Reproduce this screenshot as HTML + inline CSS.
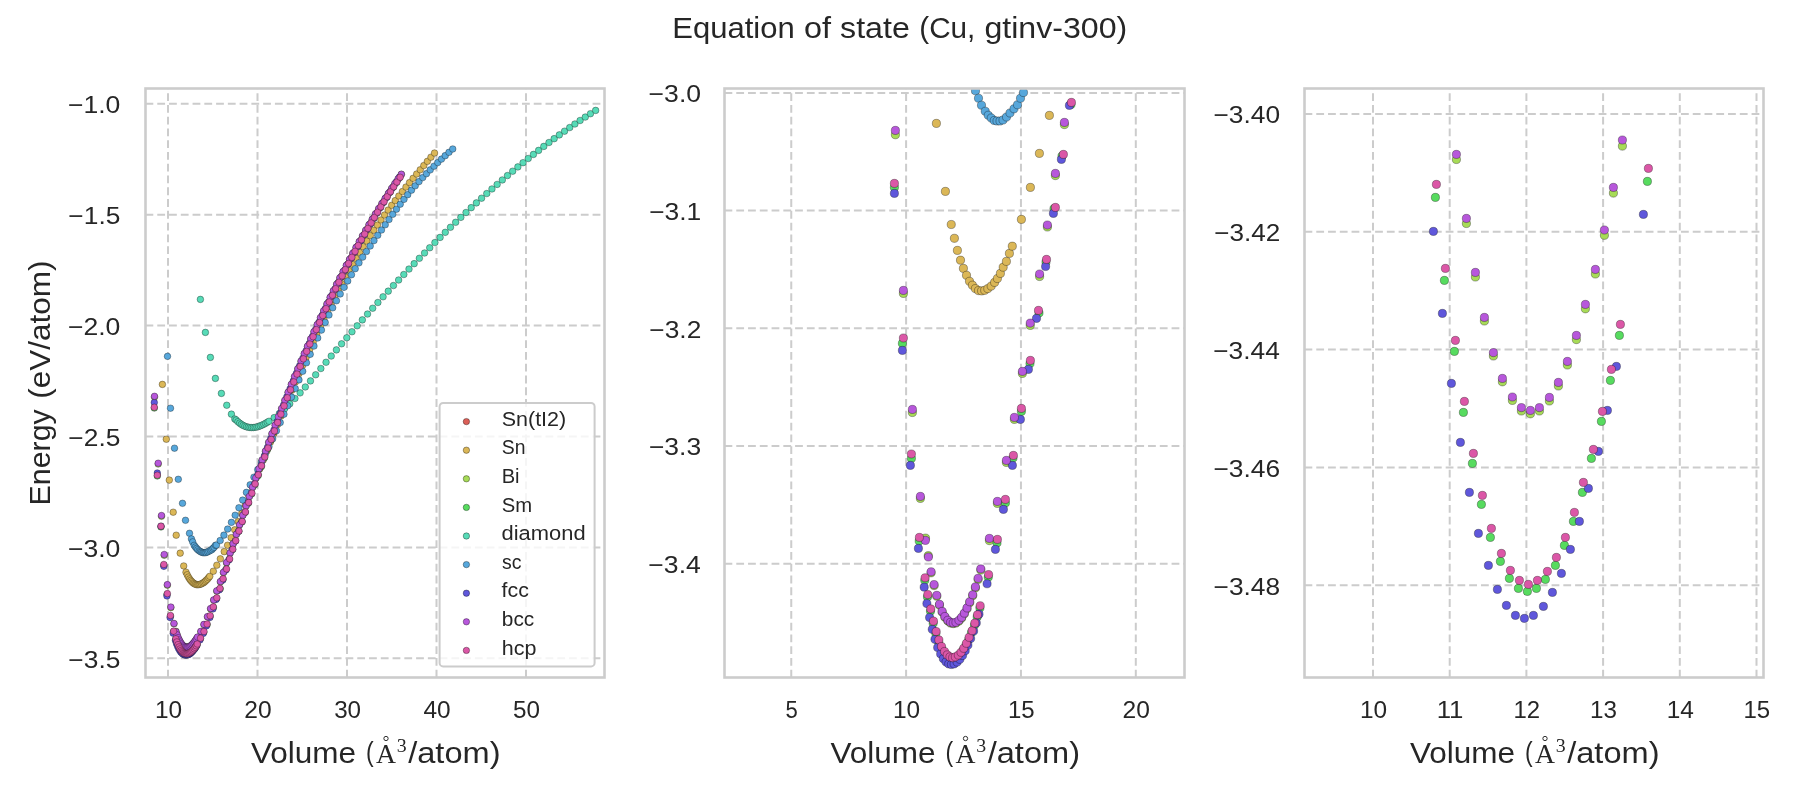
<!DOCTYPE html><html><head><meta charset="utf-8"><title>Equation of state</title><style>html,body{margin:0;padding:0;background:#fff;width:1800px;height:800px;overflow:hidden}svg{display:block;will-change:transform}text{font-family:"Liberation Sans",sans-serif;fill:#262626}</style></head><body>
<svg width="1800" height="800" viewBox="0 0 1800 800">
<rect width="1800" height="800" fill="#fff"/>
<defs>
<clipPath id="c0"><rect x="145.50" y="88.50" width="459.00" height="589.00"/></clipPath>
<clipPath id="c1"><rect x="724.50" y="88.50" width="460.00" height="589.00"/></clipPath>
<clipPath id="c2"><rect x="1304.50" y="88.50" width="459.00" height="589.00"/></clipPath>
</defs>
<text x="672.20" y="37.75" font-size="30.20" textLength="122.52" lengthAdjust="spacingAndGlyphs">Equation</text><text x="804.06" y="37.75" font-size="30.20" textLength="27.09" lengthAdjust="spacingAndGlyphs">of</text><text x="840.12" y="37.75" font-size="30.20" textLength="69.72" lengthAdjust="spacingAndGlyphs">state</text><text x="919.26" y="37.75" font-size="30.20" textLength="56.08" lengthAdjust="spacingAndGlyphs">(Cu,</text><text x="984.41" y="37.75" font-size="30.20" textLength="142.88" lengthAdjust="spacingAndGlyphs">gtinv-300)</text>
<path d="M168.00 677.50V88.50M257.50 677.50V88.50M347.00 677.50V88.50M436.50 677.50V88.50M526.00 677.50V88.50M145.50 103.80H604.50M145.50 214.70H604.50M145.50 325.60H604.50M145.50 436.50H604.50M145.50 547.40H604.50M145.50 658.30H604.50" stroke="#cccccc" stroke-width="2.0" stroke-dasharray="7.8 3.965" fill="none"/>
<g clip-path="url(#c0)" stroke="#000" stroke-opacity="0.38" stroke-width="0.85">
<g fill="#dbb757"><circle cx="162.40" cy="384.40" r="3.30"/><circle cx="166.30" cy="439.20" r="3.30"/><circle cx="169.30" cy="480.10" r="3.30"/><circle cx="173.20" cy="512.20" r="3.30"/><circle cx="176.20" cy="535.20" r="3.30"/><circle cx="180.21" cy="553.15" r="3.30"/><circle cx="183.71" cy="565.96" r="3.30"/><circle cx="185.99" cy="572.20" r="3.30"/><circle cx="187.22" cy="574.80" r="3.30"/><circle cx="188.39" cy="577.08" r="3.30"/><circle cx="189.60" cy="578.93" r="3.30"/><circle cx="190.73" cy="580.47" r="3.30"/><circle cx="191.93" cy="581.77" r="3.30"/><circle cx="193.10" cy="582.90" r="3.30"/><circle cx="194.23" cy="583.64" r="3.30"/><circle cx="195.40" cy="584.28" r="3.30"/><circle cx="196.61" cy="584.66" r="3.30"/><circle cx="197.82" cy="584.71" r="3.30"/><circle cx="199.03" cy="584.60" r="3.30"/><circle cx="200.23" cy="584.28" r="3.30"/><circle cx="201.56" cy="583.81" r="3.30"/><circle cx="202.88" cy="583.11" r="3.30"/><circle cx="203.97" cy="582.38" r="3.30"/><circle cx="205.14" cy="581.41" r="3.30"/><circle cx="206.23" cy="580.25" r="3.30"/><circle cx="207.48" cy="579.15" r="3.30"/><circle cx="208.65" cy="577.65" r="3.30"/><circle cx="209.78" cy="576.29" r="3.30"/><circle cx="213.33" cy="571.24" r="3.30"/><circle cx="216.83" cy="565.21" r="3.30"/><circle cx="220.34" cy="558.80" r="3.30"/><circle cx="224.24" cy="551.64" r="3.30"/><circle cx="227.57" cy="545.24" r="3.30"/><circle cx="231.14" cy="537.68" r="3.30"/><circle cx="234.71" cy="529.80" r="3.30"/><circle cx="238.27" cy="521.65" r="3.30"/><circle cx="241.84" cy="513.25" r="3.30"/><circle cx="245.41" cy="504.66" r="3.30"/><circle cx="248.98" cy="495.91" r="3.30"/><circle cx="252.55" cy="487.03" r="3.30"/><circle cx="256.12" cy="478.08" r="3.30"/><circle cx="259.68" cy="469.08" r="3.30"/><circle cx="263.25" cy="460.08" r="3.30"/><circle cx="266.82" cy="451.12" r="3.30"/><circle cx="270.39" cy="442.22" r="3.30"/><circle cx="273.96" cy="433.38" r="3.30"/><circle cx="277.52" cy="424.62" r="3.30"/><circle cx="281.09" cy="415.92" r="3.30"/><circle cx="284.66" cy="407.30" r="3.30"/><circle cx="288.23" cy="398.77" r="3.30"/><circle cx="291.80" cy="390.32" r="3.30"/><circle cx="295.36" cy="381.97" r="3.30"/><circle cx="298.93" cy="373.71" r="3.30"/><circle cx="302.50" cy="365.55" r="3.30"/><circle cx="306.07" cy="357.49" r="3.30"/><circle cx="309.64" cy="349.55" r="3.30"/><circle cx="313.21" cy="341.72" r="3.30"/><circle cx="316.77" cy="334.02" r="3.30"/><circle cx="320.34" cy="326.43" r="3.30"/><circle cx="323.91" cy="318.97" r="3.30"/><circle cx="327.48" cy="311.65" r="3.30"/><circle cx="331.05" cy="304.47" r="3.30"/><circle cx="334.61" cy="297.42" r="3.30"/><circle cx="338.18" cy="290.53" r="3.30"/><circle cx="341.75" cy="283.78" r="3.30"/><circle cx="345.32" cy="277.19" r="3.30"/><circle cx="348.89" cy="270.76" r="3.30"/><circle cx="352.45" cy="264.50" r="3.30"/><circle cx="356.02" cy="258.41" r="3.30"/><circle cx="359.59" cy="252.48" r="3.30"/><circle cx="363.16" cy="246.70" r="3.30"/><circle cx="366.73" cy="241.08" r="3.30"/><circle cx="370.29" cy="235.60" r="3.30"/><circle cx="373.86" cy="230.25" r="3.30"/><circle cx="377.43" cy="225.04" r="3.30"/><circle cx="381.00" cy="219.94" r="3.30"/><circle cx="384.57" cy="214.96" r="3.30"/><circle cx="388.14" cy="210.08" r="3.30"/><circle cx="391.70" cy="205.30" r="3.30"/><circle cx="395.27" cy="200.61" r="3.30"/><circle cx="398.84" cy="196.01" r="3.30"/><circle cx="402.41" cy="191.49" r="3.30"/><circle cx="405.98" cy="187.03" r="3.30"/><circle cx="409.54" cy="182.64" r="3.30"/><circle cx="413.11" cy="178.30" r="3.30"/><circle cx="416.68" cy="174.01" r="3.30"/><circle cx="420.25" cy="169.76" r="3.30"/><circle cx="423.82" cy="165.55" r="3.30"/><circle cx="427.38" cy="161.36" r="3.30"/><circle cx="430.95" cy="157.19" r="3.30"/><circle cx="434.52" cy="153.03" r="3.30"/></g>
<g fill="#a7db57"><circle cx="154.50" cy="397.11" r="3.30"/><circle cx="158.20" cy="464.01" r="3.30"/><circle cx="161.50" cy="516.31" r="3.30"/><circle cx="164.23" cy="555.28" r="3.30"/><circle cx="167.35" cy="585.18" r="3.30"/><circle cx="170.85" cy="607.63" r="3.30"/><circle cx="173.97" cy="623.81" r="3.30"/><circle cx="175.96" cy="631.30" r="3.30"/><circle cx="177.04" cy="634.61" r="3.30"/><circle cx="178.13" cy="637.83" r="3.30"/><circle cx="179.30" cy="640.24" r="3.30"/><circle cx="180.35" cy="642.26" r="3.30"/><circle cx="181.40" cy="643.92" r="3.30"/><circle cx="182.45" cy="645.23" r="3.30"/><circle cx="183.50" cy="646.20" r="3.30"/><circle cx="184.67" cy="646.90" r="3.30"/><circle cx="185.72" cy="647.30" r="3.30"/><circle cx="186.77" cy="647.41" r="3.30"/><circle cx="187.82" cy="647.30" r="3.30"/><circle cx="188.98" cy="646.93" r="3.30"/><circle cx="190.03" cy="646.36" r="3.30"/><circle cx="191.08" cy="645.57" r="3.30"/><circle cx="192.13" cy="644.62" r="3.30"/><circle cx="193.18" cy="643.46" r="3.30"/><circle cx="194.35" cy="642.15" r="3.30"/><circle cx="195.40" cy="640.69" r="3.30"/><circle cx="196.45" cy="639.10" r="3.30"/><circle cx="197.50" cy="637.33" r="3.30"/><circle cx="200.86" cy="631.77" r="3.30"/><circle cx="203.97" cy="624.76" r="3.30"/><circle cx="207.48" cy="617.03" r="3.30"/><circle cx="210.60" cy="608.93" r="3.30"/><circle cx="213.71" cy="600.26" r="3.30"/><circle cx="216.77" cy="591.21" r="3.30"/><circle cx="220.42" cy="582.00" r="3.30"/><circle cx="223.46" cy="572.67" r="3.30"/><circle cx="226.57" cy="562.98" r="3.30"/><circle cx="230.08" cy="553.37" r="3.30"/><circle cx="233.12" cy="543.98" r="3.30"/><circle cx="236.36" cy="534.45" r="3.30"/><circle cx="239.59" cy="524.96" r="3.30"/><circle cx="242.83" cy="515.51" r="3.30"/><circle cx="246.06" cy="506.11" r="3.30"/><circle cx="249.30" cy="496.77" r="3.30"/><circle cx="252.53" cy="487.50" r="3.30"/><circle cx="255.77" cy="478.32" r="3.30"/><circle cx="259.01" cy="469.24" r="3.30"/><circle cx="262.24" cy="460.26" r="3.30"/><circle cx="265.48" cy="451.39" r="3.30"/><circle cx="268.71" cy="442.65" r="3.30"/><circle cx="271.95" cy="434.01" r="3.30"/><circle cx="275.18" cy="425.50" r="3.30"/><circle cx="278.42" cy="417.09" r="3.30"/><circle cx="281.65" cy="408.80" r="3.30"/><circle cx="284.89" cy="400.63" r="3.30"/><circle cx="288.12" cy="392.56" r="3.30"/><circle cx="291.36" cy="384.60" r="3.30"/><circle cx="294.59" cy="376.76" r="3.30"/><circle cx="297.83" cy="369.02" r="3.30"/><circle cx="301.07" cy="361.40" r="3.30"/><circle cx="304.30" cy="353.88" r="3.30"/><circle cx="307.54" cy="346.46" r="3.30"/><circle cx="310.77" cy="339.15" r="3.30"/><circle cx="314.01" cy="331.95" r="3.30"/><circle cx="317.24" cy="324.86" r="3.30"/><circle cx="320.48" cy="317.86" r="3.30"/><circle cx="323.71" cy="310.97" r="3.30"/><circle cx="326.95" cy="304.18" r="3.30"/><circle cx="330.18" cy="297.49" r="3.30"/><circle cx="333.42" cy="290.91" r="3.30"/><circle cx="336.66" cy="284.42" r="3.30"/><circle cx="339.89" cy="278.03" r="3.30"/><circle cx="343.13" cy="271.74" r="3.30"/><circle cx="346.36" cy="265.55" r="3.30"/><circle cx="349.60" cy="259.45" r="3.30"/><circle cx="352.83" cy="253.45" r="3.30"/><circle cx="356.07" cy="247.54" r="3.30"/><circle cx="359.30" cy="241.73" r="3.30"/><circle cx="362.54" cy="236.01" r="3.30"/><circle cx="365.77" cy="230.39" r="3.30"/><circle cx="369.01" cy="224.85" r="3.30"/><circle cx="372.25" cy="219.41" r="3.30"/><circle cx="375.48" cy="214.05" r="3.30"/><circle cx="378.72" cy="208.79" r="3.30"/><circle cx="381.95" cy="203.61" r="3.30"/><circle cx="385.19" cy="198.53" r="3.30"/><circle cx="388.42" cy="193.53" r="3.30"/><circle cx="391.66" cy="188.61" r="3.30"/><circle cx="394.89" cy="183.78" r="3.30"/><circle cx="398.13" cy="179.04" r="3.30"/><circle cx="401.36" cy="174.38" r="3.30"/></g>
<g fill="#57db5f"><circle cx="154.30" cy="408.05" r="3.30"/><circle cx="157.30" cy="475.95" r="3.30"/><circle cx="161.00" cy="526.95" r="3.30"/><circle cx="163.84" cy="565.21" r="3.30"/><circle cx="166.96" cy="594.61" r="3.30"/><circle cx="170.47" cy="616.28" r="3.30"/><circle cx="173.50" cy="631.84" r="3.30"/><circle cx="175.68" cy="639.26" r="3.30"/><circle cx="176.73" cy="642.39" r="3.30"/><circle cx="177.90" cy="645.06" r="3.30"/><circle cx="178.95" cy="647.36" r="3.30"/><circle cx="180.00" cy="649.28" r="3.30"/><circle cx="181.05" cy="650.82" r="3.30"/><circle cx="182.10" cy="652.06" r="3.30"/><circle cx="183.27" cy="652.97" r="3.30"/><circle cx="184.32" cy="653.61" r="3.30"/><circle cx="185.37" cy="653.98" r="3.30"/><circle cx="186.42" cy="654.10" r="3.30"/><circle cx="187.47" cy="653.98" r="3.30"/><circle cx="188.52" cy="653.65" r="3.30"/><circle cx="189.68" cy="653.12" r="3.30"/><circle cx="190.73" cy="652.37" r="3.30"/><circle cx="191.78" cy="651.46" r="3.30"/><circle cx="192.83" cy="650.37" r="3.30"/><circle cx="193.88" cy="649.09" r="3.30"/><circle cx="195.05" cy="647.70" r="3.30"/><circle cx="196.10" cy="646.15" r="3.30"/><circle cx="197.15" cy="644.46" r="3.30"/><circle cx="200.42" cy="638.66" r="3.30"/><circle cx="203.82" cy="632.22" r="3.30"/><circle cx="207.09" cy="624.68" r="3.30"/><circle cx="210.05" cy="616.20" r="3.30"/><circle cx="213.33" cy="607.42" r="3.30"/><circle cx="216.68" cy="598.41" r="3.30"/><circle cx="220.18" cy="588.88" r="3.30"/><circle cx="222.91" cy="579.27" r="3.30"/><circle cx="226.03" cy="569.20" r="3.30"/><circle cx="229.14" cy="559.29" r="3.30"/><circle cx="232.65" cy="549.59" r="3.30"/><circle cx="235.57" cy="540.88" r="3.30"/><circle cx="238.79" cy="531.35" r="3.30"/><circle cx="242.01" cy="521.88" r="3.30"/><circle cx="245.23" cy="512.48" r="3.30"/><circle cx="248.45" cy="503.16" r="3.30"/><circle cx="251.67" cy="493.91" r="3.30"/><circle cx="254.89" cy="484.74" r="3.30"/><circle cx="258.11" cy="475.66" r="3.30"/><circle cx="261.33" cy="466.66" r="3.30"/><circle cx="264.55" cy="457.75" r="3.30"/><circle cx="267.77" cy="448.94" r="3.30"/><circle cx="270.99" cy="440.23" r="3.30"/><circle cx="274.21" cy="431.61" r="3.30"/><circle cx="277.42" cy="423.10" r="3.30"/><circle cx="280.64" cy="414.70" r="3.30"/><circle cx="283.86" cy="406.41" r="3.30"/><circle cx="287.08" cy="398.24" r="3.30"/><circle cx="290.30" cy="390.19" r="3.30"/><circle cx="293.52" cy="382.25" r="3.30"/><circle cx="296.74" cy="374.43" r="3.30"/><circle cx="299.96" cy="366.72" r="3.30"/><circle cx="303.18" cy="359.13" r="3.30"/><circle cx="306.40" cy="351.65" r="3.30"/><circle cx="309.62" cy="344.28" r="3.30"/><circle cx="312.84" cy="337.03" r="3.30"/><circle cx="316.06" cy="329.87" r="3.30"/><circle cx="319.28" cy="322.83" r="3.30"/><circle cx="322.49" cy="315.89" r="3.30"/><circle cx="325.71" cy="309.06" r="3.30"/><circle cx="328.93" cy="302.33" r="3.30"/><circle cx="332.15" cy="295.70" r="3.30"/><circle cx="335.37" cy="289.17" r="3.30"/><circle cx="338.59" cy="282.74" r="3.30"/><circle cx="341.81" cy="276.41" r="3.30"/><circle cx="345.03" cy="270.17" r="3.30"/><circle cx="348.25" cy="264.03" r="3.30"/><circle cx="351.47" cy="257.98" r="3.30"/><circle cx="354.69" cy="252.02" r="3.30"/><circle cx="357.91" cy="246.16" r="3.30"/><circle cx="361.13" cy="240.38" r="3.30"/><circle cx="364.35" cy="234.70" r="3.30"/><circle cx="367.57" cy="229.10" r="3.30"/><circle cx="370.78" cy="223.58" r="3.30"/><circle cx="374.00" cy="218.15" r="3.30"/><circle cx="377.22" cy="212.80" r="3.30"/><circle cx="380.44" cy="207.53" r="3.30"/><circle cx="383.66" cy="202.35" r="3.30"/><circle cx="386.88" cy="197.24" r="3.30"/><circle cx="390.10" cy="192.21" r="3.30"/><circle cx="393.32" cy="187.26" r="3.30"/><circle cx="396.54" cy="182.38" r="3.30"/><circle cx="399.76" cy="177.57" r="3.30"/></g>
<g fill="#57dbb7"><circle cx="200.40" cy="299.40" r="3.30"/><circle cx="205.40" cy="332.40" r="3.30"/><circle cx="210.40" cy="357.40" r="3.30"/><circle cx="215.40" cy="378.40" r="3.30"/><circle cx="221.40" cy="393.40" r="3.30"/><circle cx="226.75" cy="405.25" r="3.30"/><circle cx="231.40" cy="414.15" r="3.30"/><circle cx="234.80" cy="419.00" r="3.30"/><circle cx="236.17" cy="420.01" r="3.30"/><circle cx="237.90" cy="421.70" r="3.30"/><circle cx="239.63" cy="423.15" r="3.30"/><circle cx="241.36" cy="424.38" r="3.30"/><circle cx="243.08" cy="425.40" r="3.30"/><circle cx="244.81" cy="426.21" r="3.30"/><circle cx="246.54" cy="426.83" r="3.30"/><circle cx="248.27" cy="427.25" r="3.30"/><circle cx="250.00" cy="427.51" r="3.30"/><circle cx="251.72" cy="427.59" r="3.30"/><circle cx="253.45" cy="427.52" r="3.30"/><circle cx="255.18" cy="427.29" r="3.30"/><circle cx="256.91" cy="426.93" r="3.30"/><circle cx="258.64" cy="426.44" r="3.30"/><circle cx="260.37" cy="425.82" r="3.30"/><circle cx="262.09" cy="425.09" r="3.30"/><circle cx="263.82" cy="424.26" r="3.30"/><circle cx="265.55" cy="423.34" r="3.30"/><circle cx="267.28" cy="422.33" r="3.30"/><circle cx="269.01" cy="421.25" r="3.30"/><circle cx="274.19" cy="417.62" r="3.30"/><circle cx="279.38" cy="413.47" r="3.30"/><circle cx="284.56" cy="408.87" r="3.30"/><circle cx="289.75" cy="403.86" r="3.30"/><circle cx="294.93" cy="398.50" r="3.30"/><circle cx="300.12" cy="392.86" r="3.30"/><circle cx="305.30" cy="386.98" r="3.30"/><circle cx="310.48" cy="380.92" r="3.30"/><circle cx="315.67" cy="374.75" r="3.30"/><circle cx="320.85" cy="368.51" r="3.30"/><circle cx="326.04" cy="362.26" r="3.30"/><circle cx="331.22" cy="356.05" r="3.30"/><circle cx="336.41" cy="349.90" r="3.30"/><circle cx="341.59" cy="343.79" r="3.30"/><circle cx="346.78" cy="337.74" r="3.30"/><circle cx="351.96" cy="331.74" r="3.30"/><circle cx="357.15" cy="325.79" r="3.30"/><circle cx="362.33" cy="319.89" r="3.30"/><circle cx="367.52" cy="314.04" r="3.30"/><circle cx="372.70" cy="308.24" r="3.30"/><circle cx="377.89" cy="302.50" r="3.30"/><circle cx="383.07" cy="296.80" r="3.30"/><circle cx="388.26" cy="291.15" r="3.30"/><circle cx="393.44" cy="285.55" r="3.30"/><circle cx="398.63" cy="280.01" r="3.30"/><circle cx="403.81" cy="274.51" r="3.30"/><circle cx="408.99" cy="269.06" r="3.30"/><circle cx="414.18" cy="263.66" r="3.30"/><circle cx="419.36" cy="258.31" r="3.30"/><circle cx="424.55" cy="253.01" r="3.30"/><circle cx="429.73" cy="247.76" r="3.30"/><circle cx="434.92" cy="242.57" r="3.30"/><circle cx="440.10" cy="237.42" r="3.30"/><circle cx="445.29" cy="232.33" r="3.30"/><circle cx="450.47" cy="227.29" r="3.30"/><circle cx="455.66" cy="222.30" r="3.30"/><circle cx="460.84" cy="217.37" r="3.30"/><circle cx="466.03" cy="212.49" r="3.30"/><circle cx="471.21" cy="207.67" r="3.30"/><circle cx="476.40" cy="202.91" r="3.30"/><circle cx="481.58" cy="198.20" r="3.30"/><circle cx="486.77" cy="193.55" r="3.30"/><circle cx="491.95" cy="188.96" r="3.30"/><circle cx="497.14" cy="184.43" r="3.30"/><circle cx="502.32" cy="179.96" r="3.30"/><circle cx="507.50" cy="175.55" r="3.30"/><circle cx="512.69" cy="171.20" r="3.30"/><circle cx="517.87" cy="166.91" r="3.30"/><circle cx="523.06" cy="162.68" r="3.30"/><circle cx="528.24" cy="158.52" r="3.30"/><circle cx="533.43" cy="154.42" r="3.30"/><circle cx="538.61" cy="150.38" r="3.30"/><circle cx="543.80" cy="146.41" r="3.30"/><circle cx="548.98" cy="142.51" r="3.30"/><circle cx="554.17" cy="138.67" r="3.30"/><circle cx="559.35" cy="134.90" r="3.30"/><circle cx="564.54" cy="131.19" r="3.30"/><circle cx="569.72" cy="127.56" r="3.30"/><circle cx="574.91" cy="123.99" r="3.30"/><circle cx="580.09" cy="120.49" r="3.30"/><circle cx="585.28" cy="117.07" r="3.30"/><circle cx="590.46" cy="113.71" r="3.30"/><circle cx="595.65" cy="110.42" r="3.30"/></g>
<g fill="#57a7db"><circle cx="167.50" cy="356.35" r="3.30"/><circle cx="170.50" cy="408.20" r="3.30"/><circle cx="174.50" cy="448.20" r="3.30"/><circle cx="178.30" cy="479.30" r="3.30"/><circle cx="182.50" cy="503.30" r="3.30"/><circle cx="185.50" cy="520.30" r="3.30"/><circle cx="189.50" cy="533.30" r="3.30"/><circle cx="191.43" cy="538.91" r="3.30"/><circle cx="192.68" cy="541.88" r="3.30"/><circle cx="194.19" cy="545.35" r="3.30"/><circle cx="195.44" cy="546.99" r="3.30"/><circle cx="196.61" cy="548.41" r="3.30"/><circle cx="197.78" cy="549.73" r="3.30"/><circle cx="199.24" cy="550.86" r="3.30"/><circle cx="200.41" cy="551.61" r="3.30"/><circle cx="201.58" cy="552.13" r="3.30"/><circle cx="202.75" cy="552.60" r="3.30"/><circle cx="203.82" cy="552.70" r="3.30"/><circle cx="204.99" cy="552.70" r="3.30"/><circle cx="206.16" cy="552.51" r="3.30"/><circle cx="207.52" cy="551.94" r="3.30"/><circle cx="208.88" cy="551.19" r="3.30"/><circle cx="210.44" cy="550.39" r="3.30"/><circle cx="211.81" cy="549.63" r="3.30"/><circle cx="212.97" cy="548.41" r="3.30"/><circle cx="214.14" cy="547.32" r="3.30"/><circle cx="215.43" cy="545.35" r="3.30"/><circle cx="216.43" cy="545.06" r="3.30"/><circle cx="220.19" cy="540.52" r="3.30"/><circle cx="223.94" cy="535.14" r="3.30"/><circle cx="227.69" cy="529.05" r="3.30"/><circle cx="231.44" cy="522.37" r="3.30"/><circle cx="235.19" cy="515.22" r="3.30"/><circle cx="238.94" cy="507.75" r="3.30"/><circle cx="242.69" cy="500.09" r="3.30"/><circle cx="246.44" cy="492.39" r="3.30"/><circle cx="250.19" cy="484.76" r="3.30"/><circle cx="253.94" cy="477.18" r="3.30"/><circle cx="257.70" cy="469.63" r="3.30"/><circle cx="261.45" cy="462.05" r="3.30"/><circle cx="265.20" cy="454.42" r="3.30"/><circle cx="268.95" cy="446.69" r="3.30"/><circle cx="272.70" cy="438.83" r="3.30"/><circle cx="276.45" cy="430.80" r="3.30"/><circle cx="280.20" cy="422.58" r="3.30"/><circle cx="283.95" cy="414.20" r="3.30"/><circle cx="287.70" cy="405.71" r="3.30"/><circle cx="291.45" cy="397.13" r="3.30"/><circle cx="295.20" cy="388.51" r="3.30"/><circle cx="298.96" cy="379.88" r="3.30"/><circle cx="302.71" cy="371.29" r="3.30"/><circle cx="306.46" cy="362.76" r="3.30"/><circle cx="310.21" cy="354.34" r="3.30"/><circle cx="313.96" cy="346.06" r="3.30"/><circle cx="317.71" cy="337.96" r="3.30"/><circle cx="321.46" cy="330.08" r="3.30"/><circle cx="325.21" cy="322.43" r="3.30"/><circle cx="328.96" cy="314.99" r="3.30"/><circle cx="332.71" cy="307.77" r="3.30"/><circle cx="336.46" cy="300.76" r="3.30"/><circle cx="340.22" cy="293.95" r="3.30"/><circle cx="343.97" cy="287.35" r="3.30"/><circle cx="347.72" cy="280.94" r="3.30"/><circle cx="351.47" cy="274.73" r="3.30"/><circle cx="355.22" cy="268.69" r="3.30"/><circle cx="358.97" cy="262.83" r="3.30"/><circle cx="362.72" cy="257.10" r="3.30"/><circle cx="366.47" cy="251.51" r="3.30"/><circle cx="370.22" cy="246.02" r="3.30"/><circle cx="373.97" cy="240.62" r="3.30"/><circle cx="377.73" cy="235.29" r="3.30"/><circle cx="381.48" cy="230.01" r="3.30"/><circle cx="385.23" cy="224.75" r="3.30"/><circle cx="388.98" cy="219.50" r="3.30"/><circle cx="392.73" cy="214.31" r="3.30"/><circle cx="396.48" cy="209.19" r="3.30"/><circle cx="400.23" cy="204.18" r="3.30"/><circle cx="403.98" cy="199.33" r="3.30"/><circle cx="407.73" cy="194.65" r="3.30"/><circle cx="411.48" cy="190.14" r="3.30"/><circle cx="415.23" cy="185.80" r="3.30"/><circle cx="418.99" cy="181.61" r="3.30"/><circle cx="422.74" cy="177.57" r="3.30"/><circle cx="426.49" cy="173.65" r="3.30"/><circle cx="430.24" cy="169.86" r="3.30"/><circle cx="433.99" cy="166.18" r="3.30"/><circle cx="437.74" cy="162.59" r="3.30"/><circle cx="441.49" cy="159.09" r="3.30"/><circle cx="445.24" cy="155.66" r="3.30"/><circle cx="448.99" cy="152.30" r="3.30"/><circle cx="452.74" cy="148.99" r="3.30"/></g>
<g fill="#5f57db"><circle cx="154.30" cy="402.50" r="3.30"/><circle cx="157.30" cy="473.00" r="3.30"/><circle cx="161.00" cy="526.20" r="3.30"/><circle cx="163.84" cy="566.34" r="3.30"/><circle cx="166.96" cy="595.92" r="3.30"/><circle cx="170.08" cy="617.60" r="3.30"/><circle cx="173.19" cy="633.24" r="3.30"/><circle cx="175.45" cy="640.54" r="3.30"/><circle cx="176.50" cy="643.63" r="3.30"/><circle cx="177.55" cy="646.26" r="3.30"/><circle cx="178.60" cy="648.49" r="3.30"/><circle cx="179.65" cy="650.37" r="3.30"/><circle cx="180.70" cy="651.91" r="3.30"/><circle cx="181.87" cy="653.12" r="3.30"/><circle cx="182.92" cy="654.02" r="3.30"/><circle cx="183.97" cy="654.62" r="3.30"/><circle cx="185.02" cy="655.00" r="3.30"/><circle cx="186.07" cy="655.11" r="3.30"/><circle cx="187.12" cy="655.00" r="3.30"/><circle cx="188.28" cy="654.66" r="3.30"/><circle cx="189.33" cy="654.14" r="3.30"/><circle cx="190.38" cy="653.42" r="3.30"/><circle cx="191.43" cy="652.52" r="3.30"/><circle cx="192.48" cy="651.46" r="3.30"/><circle cx="193.53" cy="650.22" r="3.30"/><circle cx="194.70" cy="648.83" r="3.30"/><circle cx="195.75" cy="647.28" r="3.30"/><circle cx="196.80" cy="645.62" r="3.30"/><circle cx="199.95" cy="639.90" r="3.30"/><circle cx="203.19" cy="633.43" r="3.30"/><circle cx="206.31" cy="625.89" r="3.30"/><circle cx="209.82" cy="617.60" r="3.30"/><circle cx="212.94" cy="608.93" r="3.30"/><circle cx="216.05" cy="599.51" r="3.30"/><circle cx="219.21" cy="589.89" r="3.30"/><circle cx="222.75" cy="580.11" r="3.30"/><circle cx="225.79" cy="570.11" r="3.30"/><circle cx="228.91" cy="559.93" r="3.30"/><circle cx="232.03" cy="549.76" r="3.30"/><circle cx="235.38" cy="541.00" r="3.30"/><circle cx="238.59" cy="531.29" r="3.30"/><circle cx="241.81" cy="521.61" r="3.30"/><circle cx="245.02" cy="511.98" r="3.30"/><circle cx="248.24" cy="502.42" r="3.30"/><circle cx="251.45" cy="492.94" r="3.30"/><circle cx="254.67" cy="483.57" r="3.30"/><circle cx="257.88" cy="474.31" r="3.30"/><circle cx="261.10" cy="465.19" r="3.30"/><circle cx="264.31" cy="456.20" r="3.30"/><circle cx="267.53" cy="447.34" r="3.30"/><circle cx="270.75" cy="438.62" r="3.30"/><circle cx="273.96" cy="430.02" r="3.30"/><circle cx="277.18" cy="421.56" r="3.30"/><circle cx="280.39" cy="413.21" r="3.30"/><circle cx="283.61" cy="404.99" r="3.30"/><circle cx="286.82" cy="396.90" r="3.30"/><circle cx="290.04" cy="388.92" r="3.30"/><circle cx="293.25" cy="381.06" r="3.30"/><circle cx="296.47" cy="373.32" r="3.30"/><circle cx="299.68" cy="365.70" r="3.30"/><circle cx="302.90" cy="358.19" r="3.30"/><circle cx="306.11" cy="350.79" r="3.30"/><circle cx="309.33" cy="343.50" r="3.30"/><circle cx="312.54" cy="336.32" r="3.30"/><circle cx="315.76" cy="329.24" r="3.30"/><circle cx="318.97" cy="322.28" r="3.30"/><circle cx="322.19" cy="315.41" r="3.30"/><circle cx="325.41" cy="308.65" r="3.30"/><circle cx="328.62" cy="301.98" r="3.30"/><circle cx="331.84" cy="295.42" r="3.30"/><circle cx="335.05" cy="288.95" r="3.30"/><circle cx="338.27" cy="282.58" r="3.30"/><circle cx="341.48" cy="276.30" r="3.30"/><circle cx="344.70" cy="270.11" r="3.30"/><circle cx="347.91" cy="264.01" r="3.30"/><circle cx="351.13" cy="257.99" r="3.30"/><circle cx="354.34" cy="252.07" r="3.30"/><circle cx="357.56" cy="246.23" r="3.30"/><circle cx="360.77" cy="240.47" r="3.30"/><circle cx="363.99" cy="234.79" r="3.30"/><circle cx="367.20" cy="229.19" r="3.30"/><circle cx="370.42" cy="223.67" r="3.30"/><circle cx="373.63" cy="218.23" r="3.30"/><circle cx="376.85" cy="212.86" r="3.30"/><circle cx="380.07" cy="207.56" r="3.30"/><circle cx="383.28" cy="202.34" r="3.30"/><circle cx="386.50" cy="197.18" r="3.30"/><circle cx="389.71" cy="192.09" r="3.30"/><circle cx="392.93" cy="187.07" r="3.30"/><circle cx="396.14" cy="182.11" r="3.30"/><circle cx="399.36" cy="177.21" r="3.30"/></g>
<g fill="#b757db"><circle cx="154.50" cy="396.30" r="3.30"/><circle cx="158.20" cy="463.20" r="3.30"/><circle cx="161.50" cy="515.50" r="3.30"/><circle cx="164.23" cy="554.47" r="3.30"/><circle cx="167.35" cy="584.62" r="3.30"/><circle cx="170.85" cy="607.04" r="3.30"/><circle cx="173.97" cy="623.44" r="3.30"/><circle cx="175.92" cy="631.73" r="3.30"/><circle cx="177.09" cy="634.86" r="3.30"/><circle cx="178.13" cy="637.64" r="3.30"/><circle cx="179.30" cy="640.05" r="3.30"/><circle cx="180.35" cy="642.08" r="3.30"/><circle cx="181.40" cy="643.78" r="3.30"/><circle cx="182.45" cy="645.10" r="3.30"/><circle cx="183.50" cy="646.08" r="3.30"/><circle cx="184.67" cy="646.78" r="3.30"/><circle cx="185.72" cy="647.18" r="3.30"/><circle cx="186.77" cy="647.28" r="3.30"/><circle cx="187.82" cy="647.18" r="3.30"/><circle cx="188.98" cy="646.79" r="3.30"/><circle cx="190.03" cy="646.23" r="3.30"/><circle cx="191.08" cy="645.44" r="3.30"/><circle cx="192.13" cy="644.46" r="3.30"/><circle cx="193.18" cy="643.29" r="3.30"/><circle cx="194.35" cy="641.97" r="3.30"/><circle cx="195.40" cy="640.49" r="3.30"/><circle cx="196.45" cy="638.88" r="3.30"/><circle cx="197.50" cy="637.10" r="3.30"/><circle cx="200.86" cy="631.35" r="3.30"/><circle cx="203.97" cy="624.38" r="3.30"/><circle cx="207.48" cy="616.65" r="3.30"/><circle cx="210.60" cy="608.55" r="3.30"/><circle cx="213.71" cy="599.88" r="3.30"/><circle cx="216.77" cy="590.78" r="3.30"/><circle cx="220.42" cy="581.53" r="3.30"/><circle cx="223.46" cy="572.29" r="3.30"/><circle cx="226.57" cy="562.57" r="3.30"/><circle cx="230.08" cy="552.96" r="3.30"/><circle cx="233.12" cy="543.73" r="3.30"/><circle cx="236.36" cy="534.22" r="3.30"/><circle cx="239.59" cy="524.72" r="3.30"/><circle cx="242.83" cy="515.25" r="3.30"/><circle cx="246.06" cy="505.82" r="3.30"/><circle cx="249.30" cy="496.46" r="3.30"/><circle cx="252.53" cy="487.17" r="3.30"/><circle cx="255.77" cy="477.96" r="3.30"/><circle cx="259.01" cy="468.86" r="3.30"/><circle cx="262.24" cy="459.88" r="3.30"/><circle cx="265.48" cy="451.02" r="3.30"/><circle cx="268.71" cy="442.27" r="3.30"/><circle cx="271.95" cy="433.64" r="3.30"/><circle cx="275.18" cy="425.13" r="3.30"/><circle cx="278.42" cy="416.73" r="3.30"/><circle cx="281.65" cy="408.44" r="3.30"/><circle cx="284.89" cy="400.27" r="3.30"/><circle cx="288.12" cy="392.21" r="3.30"/><circle cx="291.36" cy="384.26" r="3.30"/><circle cx="294.59" cy="376.42" r="3.30"/><circle cx="297.83" cy="368.69" r="3.30"/><circle cx="301.07" cy="361.08" r="3.30"/><circle cx="304.30" cy="353.56" r="3.30"/><circle cx="307.54" cy="346.16" r="3.30"/><circle cx="310.77" cy="338.86" r="3.30"/><circle cx="314.01" cy="331.67" r="3.30"/><circle cx="317.24" cy="324.58" r="3.30"/><circle cx="320.48" cy="317.60" r="3.30"/><circle cx="323.71" cy="310.72" r="3.30"/><circle cx="326.95" cy="303.94" r="3.30"/><circle cx="330.18" cy="297.26" r="3.30"/><circle cx="333.42" cy="290.68" r="3.30"/><circle cx="336.66" cy="284.21" r="3.30"/><circle cx="339.89" cy="277.83" r="3.30"/><circle cx="343.13" cy="271.55" r="3.30"/><circle cx="346.36" cy="265.36" r="3.30"/><circle cx="349.60" cy="259.27" r="3.30"/><circle cx="352.83" cy="253.28" r="3.30"/><circle cx="356.07" cy="247.38" r="3.30"/><circle cx="359.30" cy="241.58" r="3.30"/><circle cx="362.54" cy="235.86" r="3.30"/><circle cx="365.77" cy="230.24" r="3.30"/><circle cx="369.01" cy="224.71" r="3.30"/><circle cx="372.25" cy="219.27" r="3.30"/><circle cx="375.48" cy="213.92" r="3.30"/><circle cx="378.72" cy="208.66" r="3.30"/><circle cx="381.95" cy="203.49" r="3.30"/><circle cx="385.19" cy="198.40" r="3.30"/><circle cx="388.42" cy="193.40" r="3.30"/><circle cx="391.66" cy="188.48" r="3.30"/><circle cx="394.89" cy="183.65" r="3.30"/><circle cx="398.13" cy="178.90" r="3.30"/><circle cx="401.36" cy="174.23" r="3.30"/></g>
<g fill="#db57a7"><circle cx="154.30" cy="407.30" r="3.30"/><circle cx="157.30" cy="475.20" r="3.30"/><circle cx="161.00" cy="526.20" r="3.30"/><circle cx="163.84" cy="564.45" r="3.30"/><circle cx="167.35" cy="593.59" r="3.30"/><circle cx="170.47" cy="615.45" r="3.30"/><circle cx="173.58" cy="631.16" r="3.30"/><circle cx="175.80" cy="638.77" r="3.30"/><circle cx="176.85" cy="641.93" r="3.30"/><circle cx="178.02" cy="644.65" r="3.30"/><circle cx="179.07" cy="646.94" r="3.30"/><circle cx="180.12" cy="648.90" r="3.30"/><circle cx="181.17" cy="650.48" r="3.30"/><circle cx="182.22" cy="651.73" r="3.30"/><circle cx="183.38" cy="652.67" r="3.30"/><circle cx="184.43" cy="653.31" r="3.30"/><circle cx="185.48" cy="653.68" r="3.30"/><circle cx="186.53" cy="653.83" r="3.30"/><circle cx="187.58" cy="653.68" r="3.30"/><circle cx="188.75" cy="653.34" r="3.30"/><circle cx="189.80" cy="652.82" r="3.30"/><circle cx="190.85" cy="652.06" r="3.30"/><circle cx="191.90" cy="651.12" r="3.30"/><circle cx="192.95" cy="649.99" r="3.30"/><circle cx="194.12" cy="648.75" r="3.30"/><circle cx="195.17" cy="647.32" r="3.30"/><circle cx="196.22" cy="645.74" r="3.30"/><circle cx="197.27" cy="644.04" r="3.30"/><circle cx="200.54" cy="638.17" r="3.30"/><circle cx="203.97" cy="631.54" r="3.30"/><circle cx="207.09" cy="624.00" r="3.30"/><circle cx="210.21" cy="615.71" r="3.30"/><circle cx="213.33" cy="606.85" r="3.30"/><circle cx="216.83" cy="597.81" r="3.30"/><circle cx="219.99" cy="588.39" r="3.30"/><circle cx="223.11" cy="578.78" r="3.30"/><circle cx="226.57" cy="568.98" r="3.30"/><circle cx="229.69" cy="558.99" r="3.30"/><circle cx="232.81" cy="549.19" r="3.30"/><circle cx="235.77" cy="540.67" r="3.30"/><circle cx="238.99" cy="531.02" r="3.30"/><circle cx="242.22" cy="521.43" r="3.30"/><circle cx="245.44" cy="511.91" r="3.30"/><circle cx="248.66" cy="502.47" r="3.30"/><circle cx="251.89" cy="493.13" r="3.30"/><circle cx="255.11" cy="483.90" r="3.30"/><circle cx="258.33" cy="474.78" r="3.30"/><circle cx="261.56" cy="465.78" r="3.30"/><circle cx="264.78" cy="456.90" r="3.30"/><circle cx="268.00" cy="448.12" r="3.30"/><circle cx="271.23" cy="439.46" r="3.30"/><circle cx="274.45" cy="430.91" r="3.30"/><circle cx="277.67" cy="422.47" r="3.30"/><circle cx="280.90" cy="414.14" r="3.30"/><circle cx="284.12" cy="405.92" r="3.30"/><circle cx="287.34" cy="397.80" r="3.30"/><circle cx="290.57" cy="389.80" r="3.30"/><circle cx="293.79" cy="381.90" r="3.30"/><circle cx="297.01" cy="374.11" r="3.30"/><circle cx="300.24" cy="366.43" r="3.30"/><circle cx="303.46" cy="358.85" r="3.30"/><circle cx="306.68" cy="351.38" r="3.30"/><circle cx="309.91" cy="344.01" r="3.30"/><circle cx="313.13" cy="336.74" r="3.30"/><circle cx="316.35" cy="329.58" r="3.30"/><circle cx="319.58" cy="322.51" r="3.30"/><circle cx="322.80" cy="315.55" r="3.30"/><circle cx="326.02" cy="308.70" r="3.30"/><circle cx="329.25" cy="301.94" r="3.30"/><circle cx="332.47" cy="295.28" r="3.30"/><circle cx="335.69" cy="288.72" r="3.30"/><circle cx="338.92" cy="282.25" r="3.30"/><circle cx="342.14" cy="275.89" r="3.30"/><circle cx="345.36" cy="269.62" r="3.30"/><circle cx="348.59" cy="263.45" r="3.30"/><circle cx="351.81" cy="257.38" r="3.30"/><circle cx="355.03" cy="251.39" r="3.30"/><circle cx="358.26" cy="245.51" r="3.30"/><circle cx="361.48" cy="239.72" r="3.30"/><circle cx="364.70" cy="234.02" r="3.30"/><circle cx="367.93" cy="228.41" r="3.30"/><circle cx="371.15" cy="222.89" r="3.30"/><circle cx="374.37" cy="217.47" r="3.30"/><circle cx="377.60" cy="212.13" r="3.30"/><circle cx="380.82" cy="206.89" r="3.30"/><circle cx="384.04" cy="201.73" r="3.30"/><circle cx="387.27" cy="196.67" r="3.30"/><circle cx="390.49" cy="191.69" r="3.30"/><circle cx="393.71" cy="186.80" r="3.30"/><circle cx="396.94" cy="181.99" r="3.30"/><circle cx="400.16" cy="177.27" r="3.30"/></g>
</g>
<rect x="145.50" y="88.50" width="459.00" height="589.00" fill="none" stroke="#cccccc" stroke-width="2.6"/>
<text x="154.96" y="717.55" font-size="23.90" textLength="27.15" lengthAdjust="spacingAndGlyphs">10</text>
<text x="244.27" y="717.55" font-size="23.90" textLength="27.34" lengthAdjust="spacingAndGlyphs">20</text>
<text x="334.15" y="717.55" font-size="23.90" textLength="26.95" lengthAdjust="spacingAndGlyphs">30</text>
<text x="423.40" y="717.55" font-size="23.90" textLength="27.21" lengthAdjust="spacingAndGlyphs">40</text>
<text x="513.12" y="717.55" font-size="23.90" textLength="26.98" lengthAdjust="spacingAndGlyphs">50</text>
<text x="67.91" y="113.25" font-size="23.90" textLength="52.43" lengthAdjust="spacingAndGlyphs">−1.0</text>
<text x="68.38" y="224.15" font-size="23.90" textLength="52.02" lengthAdjust="spacingAndGlyphs">−1.5</text>
<text x="67.91" y="335.05" font-size="23.90" textLength="52.43" lengthAdjust="spacingAndGlyphs">−2.0</text>
<text x="68.38" y="445.95" font-size="23.90" textLength="52.02" lengthAdjust="spacingAndGlyphs">−2.5</text>
<text x="67.91" y="556.85" font-size="23.90" textLength="52.43" lengthAdjust="spacingAndGlyphs">−3.0</text>
<text x="68.38" y="667.75" font-size="23.90" textLength="52.02" lengthAdjust="spacingAndGlyphs">−3.5</text>
<text x="250.96" y="762.50" font-size="30.10" textLength="105.11" lengthAdjust="spacingAndGlyphs">Volume</text>
<text x="365.97" y="760.70" font-size="27.30" textLength="7.66" lengthAdjust="spacingAndGlyphs">(</text>
<text x="375.93" y="762.60" font-size="26.60" textLength="19.97" lengthAdjust="spacingAndGlyphs" style="font-family:'Liberation Serif',serif">A</text>
<circle cx="386.00" cy="738.5" r="2.15" fill="none" stroke="#262626" stroke-width="0.95"/>
<text x="396.85" y="751.70" font-size="19.20" textLength="9.93" lengthAdjust="spacingAndGlyphs" style="font-family:'Liberation Serif',serif">3</text>
<text x="408.20" y="762.50" font-size="30.10" textLength="92.32" lengthAdjust="spacingAndGlyphs">/atom)</text>
<path d="M791.25 677.50V88.50M906.10 677.50V88.50M1020.95 677.50V88.50M1135.80 677.50V88.50M724.50 92.90H1184.50M724.50 210.60H1184.50M724.50 328.30H1184.50M724.50 446.00H1184.50M724.50 563.70H1184.50" stroke="#cccccc" stroke-width="2.0" stroke-dasharray="7.8 3.965" fill="none"/>
<g clip-path="url(#c1)" stroke="#000" stroke-opacity="0.38" stroke-width="0.85">
<g fill="#dbb757"><circle cx="936.40" cy="123.40" r="4.10"/><circle cx="945.40" cy="191.40" r="4.10"/><circle cx="951.25" cy="224.50" r="4.10"/><circle cx="954.40" cy="238.30" r="4.10"/><circle cx="957.40" cy="250.40" r="4.10"/><circle cx="960.50" cy="260.20" r="4.10"/><circle cx="963.40" cy="268.40" r="4.10"/><circle cx="966.50" cy="275.30" r="4.10"/><circle cx="969.50" cy="281.30" r="4.10"/><circle cx="972.40" cy="285.20" r="4.10"/><circle cx="975.40" cy="288.60" r="4.10"/><circle cx="978.50" cy="290.60" r="4.10"/><circle cx="981.60" cy="290.90" r="4.10"/><circle cx="984.70" cy="290.30" r="4.10"/><circle cx="987.80" cy="288.60" r="4.10"/><circle cx="991.20" cy="286.10" r="4.10"/><circle cx="994.60" cy="282.40" r="4.10"/><circle cx="997.40" cy="278.50" r="4.10"/><circle cx="1000.40" cy="273.40" r="4.10"/><circle cx="1003.20" cy="267.20" r="4.10"/><circle cx="1006.40" cy="261.40" r="4.10"/><circle cx="1009.40" cy="253.40" r="4.10"/><circle cx="1012.30" cy="246.20" r="4.10"/><circle cx="1021.40" cy="219.40" r="4.10"/><circle cx="1030.40" cy="187.40" r="4.10"/><circle cx="1039.40" cy="153.40" r="4.10"/><circle cx="1049.40" cy="115.40" r="4.10"/></g>
<g fill="#a7db57"><circle cx="895.40" cy="134.70" r="4.10"/><circle cx="903.40" cy="293.40" r="4.10"/><circle cx="912.40" cy="412.50" r="4.10"/><circle cx="920.40" cy="498.40" r="4.10"/><circle cx="925.51" cy="538.11" r="4.10"/><circle cx="928.28" cy="555.70" r="4.10"/><circle cx="931.08" cy="572.79" r="4.10"/><circle cx="934.07" cy="585.58" r="4.10"/><circle cx="936.77" cy="596.27" r="4.10"/><circle cx="939.46" cy="605.06" r="4.10"/><circle cx="942.16" cy="612.06" r="4.10"/><circle cx="944.85" cy="617.21" r="4.10"/><circle cx="947.85" cy="620.93" r="4.10"/><circle cx="950.54" cy="623.05" r="4.10"/><circle cx="953.24" cy="623.61" r="4.10"/><circle cx="955.93" cy="623.05" r="4.10"/><circle cx="958.93" cy="621.05" r="4.10"/><circle cx="961.62" cy="618.05" r="4.10"/><circle cx="964.32" cy="613.86" r="4.10"/><circle cx="967.01" cy="608.78" r="4.10"/><circle cx="969.71" cy="602.63" r="4.10"/><circle cx="972.70" cy="595.67" r="4.10"/><circle cx="975.40" cy="587.94" r="4.10"/><circle cx="978.09" cy="579.51" r="4.10"/><circle cx="980.79" cy="570.11" r="4.10"/><circle cx="989.40" cy="540.60" r="4.10"/><circle cx="997.40" cy="503.40" r="4.10"/><circle cx="1006.40" cy="462.40" r="4.10"/><circle cx="1014.40" cy="419.40" r="4.10"/><circle cx="1022.40" cy="373.40" r="4.10"/><circle cx="1030.25" cy="325.40" r="4.10"/><circle cx="1039.60" cy="276.50" r="4.10"/><circle cx="1047.40" cy="227.00" r="4.10"/><circle cx="1055.40" cy="175.60" r="4.10"/><circle cx="1064.40" cy="124.60" r="4.10"/></g>
<g fill="#57db5f"><circle cx="894.40" cy="187.40" r="4.10"/><circle cx="902.40" cy="343.40" r="4.10"/><circle cx="911.40" cy="458.40" r="4.10"/><circle cx="919.20" cy="541.00" r="4.10"/><circle cx="924.79" cy="580.37" r="4.10"/><circle cx="927.48" cy="596.95" r="4.10"/><circle cx="930.48" cy="611.14" r="4.10"/><circle cx="933.17" cy="623.33" r="4.10"/><circle cx="935.87" cy="633.52" r="4.10"/><circle cx="938.56" cy="641.71" r="4.10"/><circle cx="941.26" cy="648.31" r="4.10"/><circle cx="944.25" cy="653.10" r="4.10"/><circle cx="946.95" cy="656.50" r="4.10"/><circle cx="949.64" cy="658.50" r="4.10"/><circle cx="952.34" cy="659.10" r="4.10"/><circle cx="955.03" cy="658.50" r="4.10"/><circle cx="957.73" cy="656.70" r="4.10"/><circle cx="960.72" cy="653.90" r="4.10"/><circle cx="963.42" cy="649.91" r="4.10"/><circle cx="966.12" cy="645.11" r="4.10"/><circle cx="968.81" cy="639.32" r="4.10"/><circle cx="971.51" cy="632.52" r="4.10"/><circle cx="974.50" cy="625.13" r="4.10"/><circle cx="977.20" cy="616.93" r="4.10"/><circle cx="979.89" cy="607.94" r="4.10"/><circle cx="988.28" cy="577.17" r="4.10"/><circle cx="997.00" cy="543.00" r="4.10"/><circle cx="1005.40" cy="503.00" r="4.10"/><circle cx="1013.00" cy="458.00" r="4.10"/><circle cx="1021.40" cy="411.40" r="4.10"/><circle cx="1030.00" cy="363.60" r="4.10"/><circle cx="1039.00" cy="313.00" r="4.10"/><circle cx="1046.00" cy="262.00" r="4.10"/><circle cx="1054.00" cy="208.60" r="4.10"/><circle cx="1062.00" cy="156.00" r="4.10"/><circle cx="1071.00" cy="104.50" r="4.10"/></g>
<g fill="#57a7db"><circle cx="975.50" cy="90.75" r="4.10"/><circle cx="978.50" cy="98.25" r="4.10"/><circle cx="981.50" cy="105.25" r="4.10"/><circle cx="985.25" cy="111.25" r="4.10"/><circle cx="988.25" cy="115.25" r="4.10"/><circle cx="991.25" cy="118.00" r="4.10"/><circle cx="994.25" cy="120.50" r="4.10"/><circle cx="997.00" cy="121.00" r="4.10"/><circle cx="1000.00" cy="121.00" r="4.10"/><circle cx="1003.00" cy="120.00" r="4.10"/><circle cx="1006.50" cy="117.00" r="4.10"/><circle cx="1010.00" cy="113.00" r="4.10"/><circle cx="1014.00" cy="108.75" r="4.10"/><circle cx="1017.50" cy="104.75" r="4.10"/><circle cx="1020.50" cy="98.25" r="4.10"/><circle cx="1023.50" cy="92.50" r="4.10"/></g>
<g fill="#5f57db"><circle cx="894.40" cy="193.40" r="4.10"/><circle cx="902.40" cy="350.40" r="4.10"/><circle cx="910.40" cy="465.40" r="4.10"/><circle cx="918.40" cy="548.40" r="4.10"/><circle cx="924.19" cy="587.16" r="4.10"/><circle cx="926.88" cy="603.55" r="4.10"/><circle cx="929.58" cy="617.53" r="4.10"/><circle cx="932.27" cy="629.32" r="4.10"/><circle cx="934.97" cy="639.32" r="4.10"/><circle cx="937.67" cy="647.51" r="4.10"/><circle cx="940.66" cy="653.90" r="4.10"/><circle cx="943.36" cy="658.70" r="4.10"/><circle cx="946.05" cy="661.90" r="4.10"/><circle cx="948.75" cy="663.89" r="4.10"/><circle cx="951.44" cy="664.49" r="4.10"/><circle cx="954.14" cy="663.89" r="4.10"/><circle cx="957.13" cy="662.10" r="4.10"/><circle cx="959.83" cy="659.30" r="4.10"/><circle cx="962.52" cy="655.50" r="4.10"/><circle cx="965.22" cy="650.71" r="4.10"/><circle cx="967.91" cy="645.11" r="4.10"/><circle cx="970.61" cy="638.52" r="4.10"/><circle cx="973.60" cy="631.12" r="4.10"/><circle cx="976.30" cy="622.93" r="4.10"/><circle cx="978.99" cy="614.14" r="4.10"/><circle cx="987.08" cy="583.76" r="4.10"/><circle cx="995.40" cy="549.40" r="4.10"/><circle cx="1003.40" cy="509.40" r="4.10"/><circle cx="1012.40" cy="465.40" r="4.10"/><circle cx="1020.40" cy="419.40" r="4.10"/><circle cx="1028.40" cy="369.40" r="4.10"/><circle cx="1036.50" cy="318.40" r="4.10"/><circle cx="1045.60" cy="266.50" r="4.10"/><circle cx="1053.40" cy="213.40" r="4.10"/><circle cx="1061.40" cy="159.40" r="4.10"/><circle cx="1069.40" cy="105.40" r="4.10"/></g>
<g fill="#b757db"><circle cx="895.40" cy="130.40" r="4.10"/><circle cx="903.40" cy="290.40" r="4.10"/><circle cx="912.40" cy="409.40" r="4.10"/><circle cx="920.40" cy="496.40" r="4.10"/><circle cx="925.40" cy="540.40" r="4.10"/><circle cx="928.40" cy="557.00" r="4.10"/><circle cx="931.08" cy="571.77" r="4.10"/><circle cx="934.07" cy="584.56" r="4.10"/><circle cx="936.77" cy="595.35" r="4.10"/><circle cx="939.46" cy="604.35" r="4.10"/><circle cx="942.16" cy="611.38" r="4.10"/><circle cx="944.85" cy="616.54" r="4.10"/><circle cx="947.85" cy="620.25" r="4.10"/><circle cx="950.54" cy="622.37" r="4.10"/><circle cx="953.24" cy="622.93" r="4.10"/><circle cx="955.93" cy="622.37" r="4.10"/><circle cx="958.93" cy="620.33" r="4.10"/><circle cx="961.62" cy="617.33" r="4.10"/><circle cx="964.32" cy="613.14" r="4.10"/><circle cx="967.01" cy="607.94" r="4.10"/><circle cx="969.71" cy="601.75" r="4.10"/><circle cx="972.70" cy="594.75" r="4.10"/><circle cx="975.40" cy="586.88" r="4.10"/><circle cx="978.09" cy="578.37" r="4.10"/><circle cx="980.79" cy="568.90" r="4.10"/><circle cx="989.40" cy="538.40" r="4.10"/><circle cx="997.40" cy="501.40" r="4.10"/><circle cx="1006.40" cy="460.40" r="4.10"/><circle cx="1014.40" cy="417.40" r="4.10"/><circle cx="1022.40" cy="371.40" r="4.10"/><circle cx="1030.25" cy="323.10" r="4.10"/><circle cx="1039.60" cy="274.00" r="4.10"/><circle cx="1047.40" cy="225.00" r="4.10"/><circle cx="1055.40" cy="173.40" r="4.10"/><circle cx="1064.40" cy="122.40" r="4.10"/></g>
<g fill="#db57a7"><circle cx="894.40" cy="183.40" r="4.10"/><circle cx="903.40" cy="338.00" r="4.10"/><circle cx="911.40" cy="454.00" r="4.10"/><circle cx="919.40" cy="537.40" r="4.10"/><circle cx="925.09" cy="577.77" r="4.10"/><circle cx="927.78" cy="594.55" r="4.10"/><circle cx="930.78" cy="608.94" r="4.10"/><circle cx="933.47" cy="621.13" r="4.10"/><circle cx="936.17" cy="631.52" r="4.10"/><circle cx="938.86" cy="639.92" r="4.10"/><circle cx="941.56" cy="646.51" r="4.10"/><circle cx="944.55" cy="651.51" r="4.10"/><circle cx="947.25" cy="654.90" r="4.10"/><circle cx="949.94" cy="656.90" r="4.10"/><circle cx="952.64" cy="657.70" r="4.10"/><circle cx="955.33" cy="656.90" r="4.10"/><circle cx="958.33" cy="655.10" r="4.10"/><circle cx="961.02" cy="652.30" r="4.10"/><circle cx="963.72" cy="648.31" r="4.10"/><circle cx="966.41" cy="643.31" r="4.10"/><circle cx="969.11" cy="637.32" r="4.10"/><circle cx="972.11" cy="630.72" r="4.10"/><circle cx="974.80" cy="623.13" r="4.10"/><circle cx="977.50" cy="614.74" r="4.10"/><circle cx="980.19" cy="605.74" r="4.10"/><circle cx="988.58" cy="574.57" r="4.10"/><circle cx="997.40" cy="539.40" r="4.10"/><circle cx="1005.40" cy="499.40" r="4.10"/><circle cx="1013.40" cy="455.40" r="4.10"/><circle cx="1021.40" cy="408.40" r="4.10"/><circle cx="1030.40" cy="360.40" r="4.10"/><circle cx="1038.50" cy="310.40" r="4.10"/><circle cx="1046.50" cy="259.40" r="4.10"/><circle cx="1055.40" cy="207.40" r="4.10"/><circle cx="1063.40" cy="154.40" r="4.10"/><circle cx="1071.40" cy="102.40" r="4.10"/></g>
</g>
<rect x="724.50" y="88.50" width="460.00" height="589.00" fill="none" stroke="#cccccc" stroke-width="2.6"/>
<text x="785.52" y="717.55" font-size="23.90" textLength="12.28" lengthAdjust="spacingAndGlyphs">5</text>
<text x="893.06" y="717.55" font-size="23.90" textLength="27.15" lengthAdjust="spacingAndGlyphs">10</text>
<text x="1007.94" y="717.55" font-size="23.90" textLength="26.71" lengthAdjust="spacingAndGlyphs">15</text>
<text x="1122.57" y="717.55" font-size="23.90" textLength="27.34" lengthAdjust="spacingAndGlyphs">20</text>
<text x="648.61" y="102.35" font-size="23.90" textLength="52.43" lengthAdjust="spacingAndGlyphs">−3.0</text>
<text x="649.19" y="220.05" font-size="23.90" textLength="52.10" lengthAdjust="spacingAndGlyphs">−3.1</text>
<text x="649.37" y="337.75" font-size="23.90" textLength="51.95" lengthAdjust="spacingAndGlyphs">−3.2</text>
<text x="648.92" y="455.45" font-size="23.90" textLength="52.24" lengthAdjust="spacingAndGlyphs">−3.3</text>
<text x="648.38" y="573.15" font-size="23.90" textLength="52.40" lengthAdjust="spacingAndGlyphs">−3.4</text>
<text x="830.46" y="762.50" font-size="30.10" textLength="105.11" lengthAdjust="spacingAndGlyphs">Volume</text>
<text x="945.47" y="760.70" font-size="27.30" textLength="7.66" lengthAdjust="spacingAndGlyphs">(</text>
<text x="955.43" y="762.60" font-size="26.60" textLength="19.97" lengthAdjust="spacingAndGlyphs" style="font-family:'Liberation Serif',serif">A</text>
<circle cx="965.50" cy="738.5" r="2.15" fill="none" stroke="#262626" stroke-width="0.95"/>
<text x="976.35" y="751.70" font-size="19.20" textLength="9.93" lengthAdjust="spacingAndGlyphs" style="font-family:'Liberation Serif',serif">3</text>
<text x="987.70" y="762.50" font-size="30.10" textLength="92.32" lengthAdjust="spacingAndGlyphs">/atom)</text>
<path d="M1373.00 677.50V88.50M1449.70 677.50V88.50M1526.40 677.50V88.50M1603.10 677.50V88.50M1679.80 677.50V88.50M1756.50 677.50V88.50M1304.50 114.00H1763.50M1304.50 231.80H1763.50M1304.50 349.60H1763.50M1304.50 467.40H1763.50M1304.50 585.20H1763.50" stroke="#cccccc" stroke-width="2.0" stroke-dasharray="7.8 3.965" fill="none"/>
<g clip-path="url(#c2)" stroke="#000" stroke-opacity="0.38" stroke-width="0.85">
<g fill="#a7db57"><circle cx="1456.40" cy="159.50" r="4.10"/><circle cx="1466.40" cy="223.50" r="4.10"/><circle cx="1475.40" cy="277.00" r="4.10"/><circle cx="1484.40" cy="321.00" r="4.10"/><circle cx="1493.40" cy="356.00" r="4.10"/><circle cx="1502.40" cy="381.80" r="4.10"/><circle cx="1512.40" cy="400.40" r="4.10"/><circle cx="1521.40" cy="411.00" r="4.10"/><circle cx="1530.40" cy="413.80" r="4.10"/><circle cx="1539.40" cy="411.00" r="4.10"/><circle cx="1549.40" cy="401.00" r="4.10"/><circle cx="1558.40" cy="386.00" r="4.10"/><circle cx="1567.40" cy="365.00" r="4.10"/><circle cx="1576.40" cy="339.60" r="4.10"/><circle cx="1585.40" cy="308.80" r="4.10"/><circle cx="1595.40" cy="274.00" r="4.10"/><circle cx="1604.40" cy="235.30" r="4.10"/><circle cx="1613.40" cy="193.10" r="4.10"/><circle cx="1622.40" cy="146.10" r="4.10"/></g>
<g fill="#57db5f"><circle cx="1435.40" cy="197.40" r="4.10"/><circle cx="1444.40" cy="280.40" r="4.10"/><circle cx="1454.40" cy="351.40" r="4.10"/><circle cx="1463.40" cy="412.40" r="4.10"/><circle cx="1472.40" cy="463.40" r="4.10"/><circle cx="1481.40" cy="504.40" r="4.10"/><circle cx="1490.40" cy="537.40" r="4.10"/><circle cx="1500.40" cy="561.40" r="4.10"/><circle cx="1509.40" cy="578.40" r="4.10"/><circle cx="1518.40" cy="588.40" r="4.10"/><circle cx="1527.40" cy="591.40" r="4.10"/><circle cx="1536.40" cy="588.40" r="4.10"/><circle cx="1545.40" cy="579.40" r="4.10"/><circle cx="1555.40" cy="565.40" r="4.10"/><circle cx="1564.40" cy="545.40" r="4.10"/><circle cx="1573.40" cy="521.40" r="4.10"/><circle cx="1582.40" cy="492.40" r="4.10"/><circle cx="1591.40" cy="458.40" r="4.10"/><circle cx="1601.40" cy="421.40" r="4.10"/><circle cx="1610.40" cy="380.40" r="4.10"/><circle cx="1619.40" cy="335.40" r="4.10"/><circle cx="1647.40" cy="181.40" r="4.10"/></g>
<g fill="#5f57db"><circle cx="1433.40" cy="231.40" r="4.10"/><circle cx="1442.40" cy="313.40" r="4.10"/><circle cx="1451.40" cy="383.40" r="4.10"/><circle cx="1460.40" cy="442.40" r="4.10"/><circle cx="1469.40" cy="492.40" r="4.10"/><circle cx="1478.40" cy="533.40" r="4.10"/><circle cx="1488.40" cy="565.40" r="4.10"/><circle cx="1497.40" cy="589.40" r="4.10"/><circle cx="1506.40" cy="605.40" r="4.10"/><circle cx="1515.40" cy="615.40" r="4.10"/><circle cx="1524.40" cy="618.40" r="4.10"/><circle cx="1533.40" cy="615.40" r="4.10"/><circle cx="1543.40" cy="606.40" r="4.10"/><circle cx="1552.40" cy="592.40" r="4.10"/><circle cx="1561.40" cy="573.40" r="4.10"/><circle cx="1570.40" cy="549.40" r="4.10"/><circle cx="1579.40" cy="521.40" r="4.10"/><circle cx="1588.40" cy="488.40" r="4.10"/><circle cx="1598.40" cy="451.40" r="4.10"/><circle cx="1607.40" cy="410.40" r="4.10"/><circle cx="1616.40" cy="366.40" r="4.10"/><circle cx="1643.40" cy="214.40" r="4.10"/></g>
<g fill="#b757db"><circle cx="1456.40" cy="154.40" r="4.10"/><circle cx="1466.40" cy="218.40" r="4.10"/><circle cx="1475.40" cy="272.40" r="4.10"/><circle cx="1484.40" cy="317.40" r="4.10"/><circle cx="1493.40" cy="352.60" r="4.10"/><circle cx="1502.40" cy="378.40" r="4.10"/><circle cx="1512.40" cy="397.00" r="4.10"/><circle cx="1521.40" cy="407.60" r="4.10"/><circle cx="1530.40" cy="410.40" r="4.10"/><circle cx="1539.40" cy="407.60" r="4.10"/><circle cx="1549.40" cy="397.40" r="4.10"/><circle cx="1558.40" cy="382.40" r="4.10"/><circle cx="1567.40" cy="361.40" r="4.10"/><circle cx="1576.40" cy="335.40" r="4.10"/><circle cx="1585.40" cy="304.40" r="4.10"/><circle cx="1595.40" cy="269.40" r="4.10"/><circle cx="1604.40" cy="230.00" r="4.10"/><circle cx="1613.40" cy="187.40" r="4.10"/><circle cx="1622.40" cy="140.00" r="4.10"/></g>
<g fill="#db57a7"><circle cx="1436.40" cy="184.40" r="4.10"/><circle cx="1445.40" cy="268.40" r="4.10"/><circle cx="1455.40" cy="340.40" r="4.10"/><circle cx="1464.40" cy="401.40" r="4.10"/><circle cx="1473.40" cy="453.40" r="4.10"/><circle cx="1482.40" cy="495.40" r="4.10"/><circle cx="1491.40" cy="528.40" r="4.10"/><circle cx="1501.40" cy="553.40" r="4.10"/><circle cx="1510.40" cy="570.40" r="4.10"/><circle cx="1519.40" cy="580.40" r="4.10"/><circle cx="1528.40" cy="584.40" r="4.10"/><circle cx="1537.40" cy="580.40" r="4.10"/><circle cx="1547.40" cy="571.40" r="4.10"/><circle cx="1556.40" cy="557.40" r="4.10"/><circle cx="1565.40" cy="537.40" r="4.10"/><circle cx="1574.40" cy="512.40" r="4.10"/><circle cx="1583.40" cy="482.40" r="4.10"/><circle cx="1593.40" cy="449.40" r="4.10"/><circle cx="1602.40" cy="411.40" r="4.10"/><circle cx="1611.40" cy="369.40" r="4.10"/><circle cx="1620.40" cy="324.40" r="4.10"/><circle cx="1648.40" cy="168.40" r="4.10"/></g>
</g>
<rect x="1304.50" y="88.50" width="459.00" height="589.00" fill="none" stroke="#cccccc" stroke-width="2.6"/>
<text x="1359.96" y="717.55" font-size="23.90" textLength="27.15" lengthAdjust="spacingAndGlyphs">10</text>
<text x="1436.68" y="717.55" font-size="23.90" textLength="26.77" lengthAdjust="spacingAndGlyphs">11</text>
<text x="1513.39" y="717.55" font-size="23.90" textLength="26.61" lengthAdjust="spacingAndGlyphs">12</text>
<text x="1590.07" y="717.55" font-size="23.90" textLength="26.94" lengthAdjust="spacingAndGlyphs">13</text>
<text x="1666.76" y="717.55" font-size="23.90" textLength="27.14" lengthAdjust="spacingAndGlyphs">14</text>
<text x="1743.49" y="717.55" font-size="23.90" textLength="26.71" lengthAdjust="spacingAndGlyphs">15</text>
<text x="1213.50" y="123.45" font-size="23.90" textLength="66.53" lengthAdjust="spacingAndGlyphs">−3.40</text>
<text x="1214.26" y="241.25" font-size="23.90" textLength="66.06" lengthAdjust="spacingAndGlyphs">−3.42</text>
<text x="1213.27" y="359.05" font-size="23.90" textLength="66.50" lengthAdjust="spacingAndGlyphs">−3.44</text>
<text x="1213.42" y="476.85" font-size="23.90" textLength="66.74" lengthAdjust="spacingAndGlyphs">−3.46</text>
<text x="1213.54" y="594.65" font-size="23.90" textLength="66.60" lengthAdjust="spacingAndGlyphs">−3.48</text>
<text x="1409.96" y="762.50" font-size="30.10" textLength="105.11" lengthAdjust="spacingAndGlyphs">Volume</text>
<text x="1524.97" y="760.70" font-size="27.30" textLength="7.66" lengthAdjust="spacingAndGlyphs">(</text>
<text x="1534.93" y="762.60" font-size="26.60" textLength="19.97" lengthAdjust="spacingAndGlyphs" style="font-family:'Liberation Serif',serif">A</text>
<circle cx="1545.00" cy="738.5" r="2.15" fill="none" stroke="#262626" stroke-width="0.95"/>
<text x="1555.85" y="751.70" font-size="19.20" textLength="9.93" lengthAdjust="spacingAndGlyphs" style="font-family:'Liberation Serif',serif">3</text>
<text x="1567.20" y="762.50" font-size="30.10" textLength="92.32" lengthAdjust="spacingAndGlyphs">/atom)</text>
<g transform="translate(50,503) rotate(-90)"><text x="-2.49" y="0.00" font-size="30.10" textLength="96.23" lengthAdjust="spacingAndGlyphs">Energy</text><text x="104.25" y="0.00" font-size="30.10" textLength="138.19" lengthAdjust="spacingAndGlyphs">(eV/atom)</text></g>
<rect x="439.6" y="402.9" width="155" height="263.5" rx="3.5" ry="3.5" fill="#fff" fill-opacity="0.8" stroke="#cccccc" stroke-width="2"/>
<circle cx="466.4" cy="421.60" r="3.2" fill="#db5f57" stroke="#000" stroke-opacity="0.55" stroke-width="0.62"/>
<text x="501.72" y="425.70" font-size="20.50" textLength="64.46" lengthAdjust="spacingAndGlyphs">Sn(tI2)</text>
<circle cx="466.4" cy="450.20" r="3.2" fill="#dbb757" stroke="#000" stroke-opacity="0.55" stroke-width="0.62"/>
<text x="501.82" y="454.30" font-size="20.50" textLength="23.71" lengthAdjust="spacingAndGlyphs">Sn</text>
<circle cx="466.4" cy="478.80" r="3.2" fill="#a7db57" stroke="#000" stroke-opacity="0.55" stroke-width="0.62"/>
<text x="501.67" y="482.90" font-size="20.50" textLength="17.91" lengthAdjust="spacingAndGlyphs">Bi</text>
<circle cx="466.4" cy="507.40" r="3.2" fill="#57db5f" stroke="#000" stroke-opacity="0.55" stroke-width="0.62"/>
<text x="501.78" y="511.50" font-size="20.50" textLength="30.40" lengthAdjust="spacingAndGlyphs">Sm</text>
<circle cx="466.4" cy="536.00" r="3.2" fill="#57dbb7" stroke="#000" stroke-opacity="0.55" stroke-width="0.62"/>
<text x="501.57" y="540.10" font-size="20.50" textLength="84.05" lengthAdjust="spacingAndGlyphs">diamond</text>
<circle cx="466.4" cy="564.60" r="3.2" fill="#57a7db" stroke="#000" stroke-opacity="0.55" stroke-width="0.62"/>
<text x="501.93" y="568.70" font-size="20.50" textLength="19.48" lengthAdjust="spacingAndGlyphs">sc</text>
<circle cx="466.4" cy="593.20" r="3.2" fill="#5f57db" stroke="#000" stroke-opacity="0.55" stroke-width="0.62"/>
<text x="501.57" y="597.30" font-size="20.50" textLength="27.24" lengthAdjust="spacingAndGlyphs">fcc</text>
<circle cx="466.4" cy="621.80" r="3.2" fill="#b757db" stroke="#000" stroke-opacity="0.55" stroke-width="0.62"/>
<text x="501.84" y="625.90" font-size="20.50" textLength="32.42" lengthAdjust="spacingAndGlyphs">bcc</text>
<circle cx="466.4" cy="650.40" r="3.2" fill="#db57a7" stroke="#000" stroke-opacity="0.55" stroke-width="0.62"/>
<text x="501.69" y="654.50" font-size="20.50" textLength="34.68" lengthAdjust="spacingAndGlyphs">hcp</text>
</svg></body></html>
